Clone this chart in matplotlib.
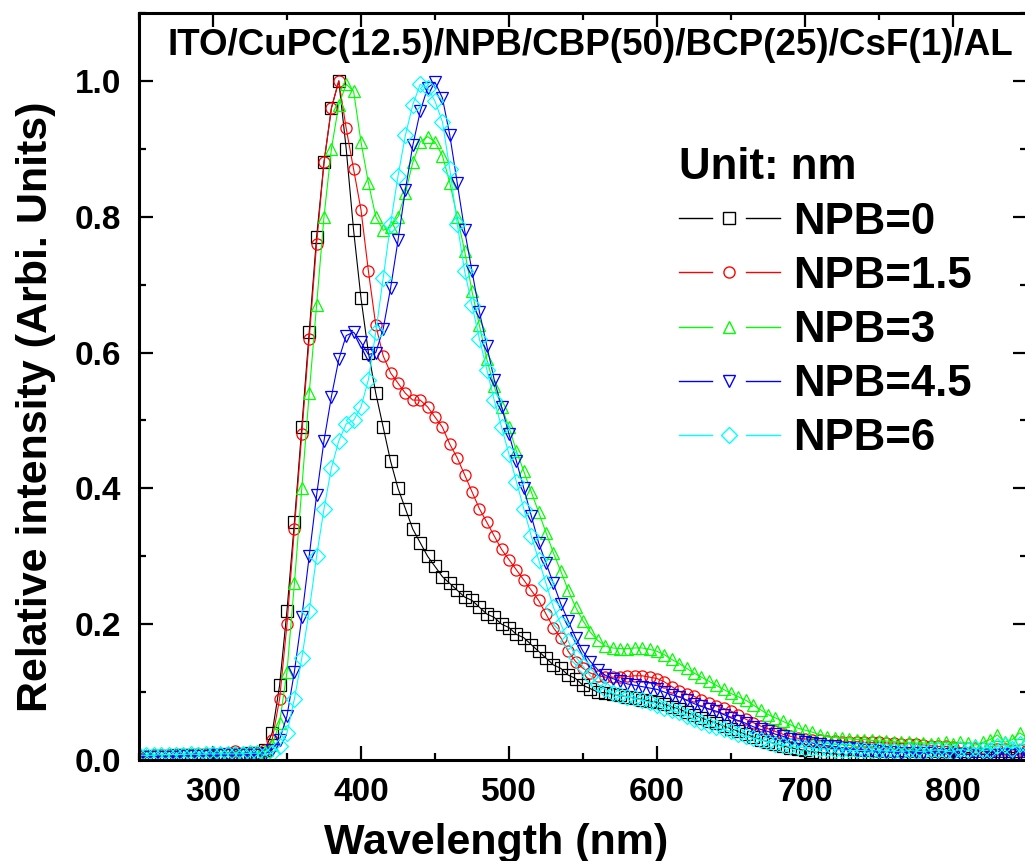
import numpy as np
import matplotlib
matplotlib.use("Agg")
from matplotlib import pyplot as plt
from matplotlib.lines import Line2D
from matplotlib.legend_handler import HandlerBase

plt.rcParams['font.family'] = ['Liberation Sans', 'DejaVu Sans']
plt.rcParams['font.weight'] = 'bold'

# wavelength grid (nm), one reading every 5 nm from 250 to 850
wavelength = np.arange(250, 851, 5)

npb_0 = [0.005, 0.005, 0.006, 0.006, 0.006, 0.007, 0.007, 0.007, 0.008, 0.008, 0.008, 0.008, 0.009, 0.009, 0.009, 0.01, 0.01,
         0.015, 0.04, 0.11, 0.22, 0.35, 0.49, 0.63, 0.77, 0.88, 0.96, 1.0,
         0.90, 0.78, 0.68, 0.60, 0.54, 0.49, 0.44, 0.40, 0.37, 0.34, 0.32, 0.30, 0.285, 0.27, 0.26, 0.25, 0.24, 0.235,
         0.225, 0.215, 0.21, 0.20, 0.195, 0.185, 0.18, 0.17, 0.16, 0.15, 0.14, 0.135, 0.125, 0.12, 0.11, 0.105, 0.10,
         0.099, 0.097, 0.095, 0.093, 0.091, 0.089, 0.087, 0.085, 0.082, 0.078, 0.075, 0.07, 0.066, 0.062, 0.058, 0.054,
         0.05, 0.046, 0.042, 0.038, 0.034, 0.03, 0.027, 0.024, 0.021, 0.018, 0.016, 0.014, 0.012, 0.011, 0.01, 0.009,
         0.008, 0.007, 0.006, 0.005,
         0.005, 0.004, 0.004, 0.004, 0.005, 0.004, 0.004, 0.003, 0.004, 0.004, 0.003, 0.004, 0.004, 0.003, 0.004, 0.004,
         0.003, 0.004, 0.004, 0.003, 0.004, 0.004]

npb_1_5 = [0.006, 0.006, 0.007, 0.007, 0.007, 0.008, 0.008, 0.008, 0.009, 0.009, 0.009, 0.009, 0.011, 0.013, 0.009, 0.01, 0.011,
           0.015, 0.03, 0.09, 0.20, 0.34, 0.48, 0.62, 0.76, 0.88, 0.96, 1.0,
           0.93, 0.87, 0.81, 0.72, 0.64, 0.595, 0.57, 0.555, 0.54, 0.53, 0.53, 0.52, 0.505, 0.49, 0.465, 0.445, 0.42, 0.395,
           0.37, 0.35, 0.33, 0.31, 0.295, 0.28, 0.265, 0.25, 0.235, 0.215, 0.195, 0.18, 0.16, 0.145, 0.135, 0.128, 0.124,
           0.122, 0.122, 0.122, 0.123, 0.124, 0.124, 0.122, 0.12, 0.115, 0.108, 0.101, 0.097, 0.094, 0.088, 0.084, 0.08,
           0.076, 0.072, 0.066, 0.06, 0.055, 0.05, 0.046, 0.042, 0.038, 0.035, 0.032, 0.031, 0.03, 0.029, 0.028, 0.028,
           0.027, 0.027, 0.027, 0.026,
           0.026, 0.026, 0.025, 0.025, 0.024, 0.024, 0.023, 0.022, 0.021, 0.02, 0.02, 0.019, 0.018, 0.018, 0.017, 0.017,
           0.016, 0.016, 0.016, 0.015, 0.015, 0.015]

npb_3 = [0.006, 0.007, 0.007, 0.008, 0.008, 0.008, 0.009, 0.009, 0.01, 0.009, 0.01, 0.01, 0.01, 0.011, 0.01, 0.011, 0.011,
         0.013, 0.022, 0.055, 0.13, 0.26, 0.40, 0.54, 0.67, 0.80, 0.90, 0.965,
         0.995, 0.985, 0.91, 0.85, 0.80, 0.78, 0.785, 0.80, 0.835, 0.88, 0.91, 0.918, 0.91, 0.89, 0.85, 0.80, 0.75, 0.69,
         0.64, 0.59, 0.55, 0.52, 0.49, 0.455, 0.425, 0.395, 0.365, 0.335, 0.305, 0.278, 0.25, 0.225, 0.205, 0.188, 0.176,
         0.168, 0.165, 0.164, 0.164, 0.165, 0.165, 0.163, 0.16, 0.155, 0.148, 0.142, 0.135, 0.128, 0.122, 0.116, 0.11,
         0.104, 0.098, 0.093, 0.088, 0.081, 0.074, 0.067, 0.062, 0.057, 0.052, 0.047, 0.044, 0.041, 0.037, 0.034, 0.033,
         0.032, 0.031, 0.03, 0.03,
         0.029, 0.028, 0.028, 0.027, 0.026, 0.026, 0.025, 0.025, 0.024, 0.025, 0.026, 0.024, 0.026, 0.025, 0.022, 0.026,
         0.03, 0.037, 0.026, 0.03, 0.04, 0.033]

npb_4_5 = [0.004, 0.004, 0.005, 0.005, 0.005, 0.005, 0.006, 0.006, 0.006, 0.006, 0.007, 0.007, 0.007, 0.007, 0.008, 0.008, 0.008,
           0.009, 0.015, 0.03, 0.065, 0.13, 0.21, 0.30, 0.39, 0.47, 0.535, 0.59,
           0.625, 0.63, 0.615, 0.597, 0.60, 0.635, 0.695, 0.765, 0.84, 0.905, 0.955, 0.99, 0.998, 0.975, 0.92, 0.85, 0.78, 0.72,
           0.66, 0.61, 0.56, 0.52, 0.48, 0.44, 0.40, 0.36, 0.32, 0.29, 0.26, 0.23, 0.205, 0.18, 0.16, 0.145, 0.133,
           0.125, 0.12, 0.116, 0.112, 0.11, 0.108, 0.106, 0.104, 0.1, 0.096, 0.093, 0.088, 0.083, 0.079, 0.075, 0.072,
           0.067, 0.062, 0.058, 0.054, 0.049, 0.045, 0.042, 0.038, 0.035, 0.031, 0.029, 0.027, 0.025, 0.023, 0.021, 0.02,
           0.018, 0.017, 0.016, 0.015,
           0.014, 0.013, 0.012, 0.012, 0.011, 0.011, 0.01, 0.01, 0.01, 0.009, 0.009, 0.009, 0.009, 0.008, 0.008, 0.008,
           0.008, 0.008, 0.009, 0.008, 0.009, 0.008]

npb_6 = [0.007, 0.007, 0.007, 0.008, 0.008, 0.008, 0.008, 0.009, 0.008, 0.009, 0.009, 0.009, 0.009, 0.009, 0.009, 0.01, 0.01,
         0.008, 0.01, 0.02, 0.04, 0.09, 0.15, 0.22, 0.30, 0.37, 0.43, 0.47,
         0.495, 0.50, 0.52, 0.56, 0.63, 0.71, 0.79, 0.86, 0.92, 0.965, 0.995, 0.99, 0.97, 0.94, 0.87, 0.79, 0.72, 0.67,
         0.62, 0.575, 0.53, 0.49, 0.45, 0.41, 0.37, 0.33, 0.295, 0.26, 0.225, 0.2, 0.175, 0.152, 0.138, 0.124, 0.112,
         0.104, 0.098, 0.095, 0.093, 0.091, 0.088, 0.085, 0.081, 0.077, 0.073, 0.07, 0.065, 0.06, 0.056, 0.052, 0.048,
         0.045, 0.042, 0.038, 0.035, 0.032, 0.03, 0.027, 0.024, 0.022, 0.02, 0.019, 0.018, 0.017, 0.016, 0.016, 0.015,
         0.015, 0.014, 0.014, 0.014,
         0.013, 0.014, 0.013, 0.013, 0.012, 0.014, 0.013, 0.012, 0.014, 0.015, 0.013, 0.012, 0.016, 0.014, 0.018, 0.014,
         0.015, 0.02, 0.022, 0.016, 0.024, 0.02]

labels = ["NPB=0", "NPB=1.5", "NPB=3", "NPB=4.5", "NPB=6"]
series = [npb_0, npb_1_5, npb_3, npb_4_5, npb_6]
colors = ["#000000", "#ff0000", "#00ff00", "#0000ff", "#00ffff"]
markers = ["s", "o", "^", "v", "D"]


class GapLineHandler(HandlerBase):
    """ line - marker - line, with a gap around the marker (Origin style) """
    def create_artists(self, legend, orig_handle, xdescent, ydescent, width, height, fontsize, trans):
        c = orig_handle.get_color()
        y = height / 2 - ydescent
        x0 = -xdescent
        seg = width * 0.33
        l1 = Line2D([x0, x0 + seg], [y, y], color=c, lw=1)
        l2 = Line2D([x0 + width - seg, x0 + width], [y, y], color=c, lw=1)
        mk = Line2D([x0 + width / 2], [y], ls="none", marker=orig_handle.get_marker(),
                    ms=orig_handle.get_markersize(), mfc="none", mec=c, mew=1)
        for a in (l1, l2, mk):
            a.set_transform(trans)
        return [l1, l2, mk]


fig = plt.figure(figsize=(10.25, 8.61), dpi=100)
ax = fig.add_axes([139 / 1025, 101 / 861, 888 / 1025, 747 / 861])

handles = []
for y, lab, c, m in zip(series, labels, colors, markers):
    h, = ax.plot(wavelength, y, color=c, lw=0.8, marker=m, ms=8, mfc="none", mec=c, mew=0.9, label=lab)
    handles.append(h)

ax.set_xlim(250, 850)
ax.set_ylim(0, 1.1)
ax.set_xticks([300, 400, 500, 600, 700, 800])
ax.set_xticks(np.arange(250, 851, 50), minor=True)
ax.set_yticks([0.0, 0.2, 0.4, 0.6, 0.8, 1.0])
ax.set_yticks(np.arange(0, 1.11, 0.1), minor=True)
ax.yaxis.set_major_formatter(matplotlib.ticker.FormatStrFormatter("%.1f"))

ax.tick_params(which="both", direction="in", top=True, right=True, width=1.6, labelsize=24)
ax.tick_params(which="major", length=10)
ax.tick_params(which="minor", length=5)
ax.tick_params(axis="y", pad=13)
ax.tick_params(axis="x", pad=12)
for s in ax.spines.values():
    s.set_linewidth(2.2)

ax.set_xlabel("Wavelength (nm)", fontsize=31, fontweight="bold")
ax.xaxis.set_label_coords(0.402, -0.084)
ax.set_ylabel("Relative intensity (Arbi. Units)", fontsize=31, fontweight="bold")
ax.yaxis.set_label_coords(-0.093, 0.4726)

ax.text(0.508, 0.957, "ITO/CuPC(12.5)/NPB/CBP(50)/BCP(25)/CsF(1)/AL", transform=ax.transAxes,
        ha="center", va="center", fontsize=26.5, fontweight="bold")

leg = ax.legend(handles=handles, labels=labels, handler_map={Line2D: GapLineHandler()},
                loc="upper left", bbox_to_anchor=(0.608, 0.82), frameon=False,
                prop=dict(weight="bold", size=31.5), title="Unit: nm",
                title_fontproperties=dict(weight="bold", size=31.5), alignment="left",
                handlelength=2.3, handletextpad=0.3, labelspacing=0.3, borderpad=0, borderaxespad=0)

fig.savefig("out.png", dpi=100)
